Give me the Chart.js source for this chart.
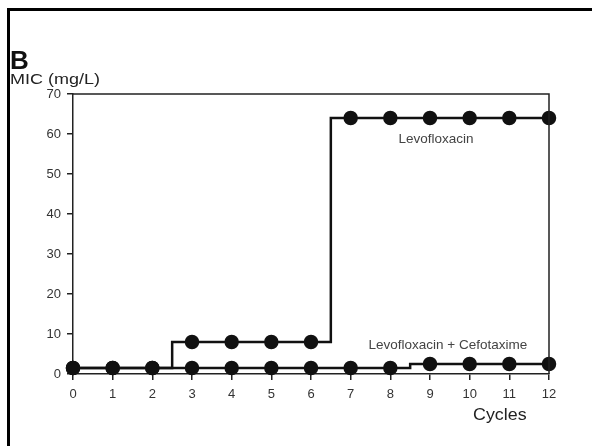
<!DOCTYPE html>
<html>
<head>
<meta charset="utf-8">
<script src="https://cdn.jsdelivr.net/npm/chart.js@4"></script>
<style>
  html, body { margin: 0; padding: 0; background: #fff; }
  #wrap { position: relative; width: 592px; height: 446px; overflow: hidden; }
  #frame { position: absolute; left: 7px; top: 8px; width: 600px; height: 460px;
           border-left: 3px solid #000; border-top: 3px solid #000; }
  canvas { position: absolute; left: 0; top: 0; }
  .txt { position: absolute; font-family: "Liberation Sans", Arial, sans-serif; color: #222;
         white-space: nowrap; transform-origin: left center; }
</style>
</head>
<body>
<div id="wrap">
  <div id="frame"></div>
  <canvas id="chart" width="592" height="446"></canvas>
  <div class="txt" style="left:10px; top:45px; font-size:26px; font-weight:bold; color:#111;">B</div>
  <div class="txt" style="left:10px; top:70px; font-size:15px; transform:scaleX(1.2);">MIC (mg/L)</div>
  <div class="txt" style="left:473px; top:405px; font-size:17px; transform:scaleX(1.05);">Cycles</div>
</div>
<script>
// Cycle number on x, MIC (mg/L) on y
const CYCLES = [0, 1, 2, 3, 4, 5, 6, 7, 8, 9, 10, 11, 12];
const LEVO   = [1.5, 1.5, 1.5, 8, 8, 8, 8, 64, 64, 64, 64, 64, 64];
const COMBO  = [1.5, 1.5, 1.5, 1.5, 1.5, 1.5, 1.5, 1.5, 1.5, 2.5, 2.5, 2.5, 2.5];
const Y_TICKS = [0, 10, 20, 30, 40, 50, 60, 70];

// In-plot series labels (text, x in cycles, y in mg/L)
const NOTE_TEXT = ['Levofloxacin', 'Levofloxacin + Cefotaxime'];
const NOTE_X    = [9.15, 9.45];
const NOTE_Y    = [58.8, 7.3];

const INK = '#111';
const FONT = '"Liberation Sans", Arial, sans-serif';

// Top + right edge of the plot box
const boxPlugin = {
  id: 'box',
  afterDatasetsDraw(chart) {
    const { ctx, chartArea: a } = chart;
    ctx.save();
    ctx.strokeStyle = '#222';
    ctx.lineWidth = 1.5;
    ctx.beginPath();
    ctx.moveTo(a.left, a.top);
    ctx.lineTo(a.right, a.top);
    ctx.lineTo(a.right, a.bottom);
    ctx.stroke();
    ctx.restore();
  }
};

const notesPlugin = {
  id: 'notes',
  afterDraw(chart) {
    const { ctx } = chart;
    const xs = chart.scales.x, ys = chart.scales.y;
    ctx.save();
    ctx.font = '13.5px ' + FONT;
    ctx.fillStyle = '#444';
    ctx.textAlign = 'center';
    ctx.textBaseline = 'middle';
    NOTE_TEXT.forEach((t, i) => {
      ctx.fillText(t, xs.getPixelForValue(NOTE_X[i]), ys.getPixelForValue(NOTE_Y[i]));
    });
    ctx.restore();
  }
};

const seriesStyle = {
  borderColor: INK,
  backgroundColor: INK,
  pointBackgroundColor: INK,
  borderWidth: 2.5,
  pointRadius: 6,
  pointHoverRadius: 6,
  stepped: 'middle',
  fill: false,
  clip: false
};

new Chart(document.getElementById('chart'), {
  type: 'line',
  data: {
    datasets: [
      { label: 'Levofloxacin', data: CYCLES.map((c, i) => ({ x: c, y: LEVO[i] })), ...seriesStyle },
      { label: 'Levofloxacin + Cefotaxime', data: CYCLES.map((c, i) => ({ x: c, y: COMBO[i] })), ...seriesStyle }
    ]
  },
  options: {
    responsive: false,
    animation: false,
    layout: { padding: { left: 43, right: 43, top: 94, bottom: 42 } },
    plugins: { legend: { display: false }, tooltip: { enabled: false } },
    scales: {
      x: {
        type: 'linear',
        min: 0,
        max: 12,
        afterFit: s => { s.height = 30; },
        ticks: {
          stepSize: 1,
          color: '#333',
          padding: 7,
          font: { family: FONT, size: 13 }
        },
        grid: { drawOnChartArea: false, drawTicks: true, tickLength: 6, color: '#222', lineWidth: 1.5 },
        border: { color: '#222', width: 1.5 }
      },
      y: {
        min: 0,
        max: 70,
        afterFit: s => { s.width = 30; },
        afterBuildTicks: s => { s.ticks = Y_TICKS.map(v => ({ value: v })); },
        ticks: {
          color: '#333',
          padding: 6,
          font: { family: FONT, size: 13 }
        },
        grid: { drawOnChartArea: false, drawTicks: true, tickLength: 6, color: '#222', lineWidth: 1.5 },
        border: { color: '#222', width: 1.5 }
      }
    }
  },
  plugins: [boxPlugin, notesPlugin]
});
</script>
</body>
</html>
